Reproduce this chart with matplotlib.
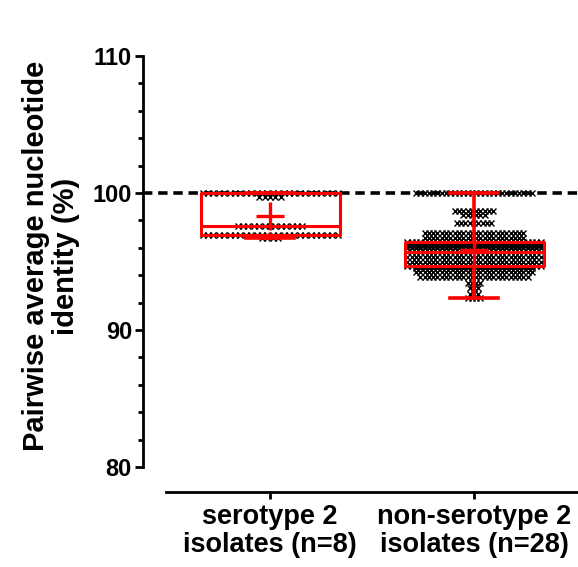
import numpy as np
import matplotlib
matplotlib.use("Agg")
import matplotlib.pyplot as plt
from matplotlib.ticker import MultipleLocator

# ---- data ----
categories = ["serotype 2\nisolates (n=8)", "non-serotype 2\nisolates (n=28)"]

# pairwise identity levels (%) and how many points sit on each level
sero2_levels = [96.7, 96.9, 97.6, 99.7, 100.0]
sero2_counts = [4, 26, 13, 5, 26]

nonsero2_levels = [92.3, 92.6, 93.1, 93.4, 93.9, 94.2, 94.5, 94.7, 95.0, 95.3,
                   95.7, 96.0, 96.2, 96.4, 96.7, 97.1, 97.8, 98.4, 98.7, 100.0]
nonsero2_counts = [4, 3, 3, 4, 26, 28, 28, 32, 32, 32,
                   32, 32, 32, 32, 24, 24, 9, 6, 10, 28]

yticks = [80, 90, 100, 110]
ref_line = 100

# ---- figure ----
W, H = 578, 567
fig = plt.figure(figsize=(W / 100, H / 100), dpi=100)
plt.rcParams['font.family'] = ['Liberation Sans', 'DejaVu Sans']
plt.rcParams['font.weight'] = 'bold'

ax = fig.add_axes([143 / W, 1 - 467 / H, (W - 143) / W, (467 - 56) / H])

positions = [1, 2]
px_per_unit = 204.0
x0 = 1 - (270 - 143) / px_per_unit
ax.set_xlim(x0, x0 + (W - 143) / px_per_unit)
ax.set_ylim(80, 110)

groups = [(sero2_levels, sero2_counts, 5.4), (nonsero2_levels, nonsero2_counts, 4.3)]
datasets = []
for pos, (levels, counts, spacing_px) in zip(positions, groups):
    vals = np.repeat(levels, counts)
    datasets.append(vals)
    dx = spacing_px / px_per_unit
    for lv, c in zip(levels, counts):
        offs = (np.arange(c) - (c - 1) / 2.0) * dx
        ax.plot(pos + offs, np.full(c, lv), linestyle='none', marker='x',
                color='black', ms=4.2, mew=1.0, zorder=2)

red = '#FF0000'
ax.boxplot(datasets, positions=positions, widths=139 / px_per_unit, whis=(0, 100),
           showmeans=True, showfliers=False, patch_artist=False,
           capwidths=48 / px_per_unit,
           boxprops=dict(color=red, linewidth=2.2),
           medianprops=dict(color=red, linewidth=2.2),
           whiskerprops=dict(color=red, linewidth=2.6),
           capprops=dict(color=red, linewidth=2.6),
           meanprops=dict(marker='+', markeredgecolor=red, markersize=20, markeredgewidth=2.4),
           zorder=3)

ax.axhline(ref_line, color='black', linestyle=(0, (2.6, 1.6)), linewidth=2.6, zorder=1)

# spines
for s in ['top', 'right']:
    ax.spines[s].set_visible(False)
ax.spines['left'].set_linewidth(2.0)
ax.spines['bottom'].set_linewidth(2.0)
ax.spines['left'].set_bounds(80, 110)
ax.spines['bottom'].set_position(('outward', 18))
ax.spines['bottom'].set_bounds(1 - 104 / px_per_unit, ax.get_xlim()[1])

ax.set_yticks(yticks)
ax.yaxis.set_minor_locator(MultipleLocator(2))
ax.tick_params(axis='y', which='major', length=6, width=2.0, labelsize=17, pad=2)
ax.tick_params(axis='y', which='minor', length=3.5, width=2.0)
ax.set_xticks(positions)
ax.set_xticklabels(categories, fontsize=19.5, fontweight='bold', linespacing=1.05)
ax.tick_params(axis='x', length=5, width=2.0, pad=4)
for lab in ax.get_yticklabels():
    lab.set_fontweight('bold')

fig.text(51 / W, 1 - 256 / H, "Pairwise average nucleotide\nidentity (%)",
         rotation=90, ha='center', va='center', fontsize=21, fontweight='bold',
         linespacing=1.05, multialignment='center')

fig.savefig("out.png", dpi=100)
